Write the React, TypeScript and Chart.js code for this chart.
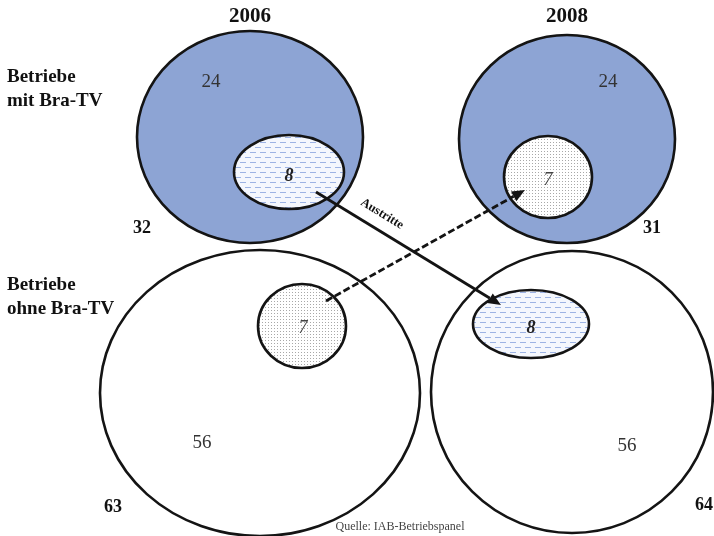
import React, { useEffect, useRef } from "react";
import { Chart, registerables } from "chart.js";
Chart.register(...registerables);

// ---- data ----
const years = ["2006", "2008"];
const groupLabels = [["Betriebe", "mit Bra-TV"], ["Betriebe", "ohne Bra-TV"]];
const totalsWith = [32, 31];
const totalsWithout = [63, 64];
const stayersWith = [24, 24];
const stayersWithout = [56, 56];
const exits = [8, 8]; // with-group 2006 -> without-group 2008
const entries = [7, 7]; // without-group 2006 -> with-group 2008
const arrowLabel = "Austritte";
const source = "Quelle: IAB-Betriebspanel";

// ---- layout (data units on a 714 x 536 scale) ----
const outer = [
  { cx: 250, cy: 137, rx: 113, ry: 106, fill: "blue" },
  { cx: 567, cy: 139, rx: 108, ry: 104, fill: "blue" },
  { cx: 260, cy: 393, rx: 160, ry: 143, fill: "white" },
  { cx: 572, cy: 392, rx: 141, ry: 141, fill: "white" },
];
const inner = [
  { cx: 289, cy: 172, rx: 55, ry: 37, pat: "dash" },
  { cx: 548, cy: 177, rx: 44, ry: 41, pat: "dot" },
  { cx: 302, cy: 326, rx: 44, ry: 42, pat: "dot" },
  { cx: 531, cy: 324, rx: 58, ry: 34, pat: "dash" },
];

function makePattern(ctx: CanvasRenderingContext2D, kind: string) {
  const c = document.createElement("canvas");
  if (kind === "dash") {
    c.width = 10; c.height = 10;
    const g = c.getContext("2d")!;
    g.fillStyle = "#f4f7fd"; g.fillRect(0, 0, 10, 10);
    g.fillStyle = "#9cb3e4";
    g.fillRect(0, 2, 6, 1);
    g.fillRect(5, 7, 6, 1);
    g.fillRect(0, 7, 1, 1);
  } else {
    c.width = 3; c.height = 3;
    const g = c.getContext("2d")!;
    g.fillStyle = "#ffffff"; g.fillRect(0, 0, 3, 3);
    g.fillStyle = "#a8a8a8"; g.fillRect(1, 1, 1, 1);
  }
  return ctx.createPattern(c, "repeat")!;
}

const diagramPlugin = {
  id: "diagram",
  afterDraw(chart: any) {
    const ctx: CanvasRenderingContext2D = chart.ctx;
    const xs = chart.scales.x, ys = chart.scales.y;
    const X = (v: number) => xs.getPixelForValue(v);
    const Y = (v: number) => ys.getPixelForValue(v);
    const W = (v: number) => Math.abs(xs.getPixelForValue(v) - xs.getPixelForValue(0));
    const H = (v: number) => Math.abs(ys.getPixelForValue(v) - ys.getPixelForValue(0));
    ctx.save();
    const ell = (e: any, fill: any) => {
      ctx.beginPath();
      ctx.ellipse(X(e.cx), Y(e.cy), W(e.rx), H(e.ry), 0, 0, Math.PI * 2);
      ctx.fillStyle = fill; ctx.fill();
      ctx.lineWidth = 2.6; ctx.strokeStyle = "#141414"; ctx.stroke();
    };
    outer.forEach((e) => ell(e, e.fill === "blue" ? "#8da4d4" : "#ffffff"));
    inner.forEach((e) => ell(e, makePattern(ctx, e.pat)));

    const text = (t: string, x: number, y: number, font: string, align: CanvasTextAlign = "center", color = "#222") => {
      ctx.font = font; ctx.fillStyle = color; ctx.textAlign = align; ctx.textBaseline = "middle";
      ctx.fillText(t, X(x), Y(y));
    };
    const serif = '"Liberation Serif", "Times New Roman", serif';
    // titles
    text(years[0], 250, 17, `bold 21px ${serif}`, "center", "#111");
    text(years[1], 567, 17, `bold 21px ${serif}`, "center", "#111");
    // group labels
    const gl = `bold 19px ${serif}`;
    text(groupLabels[0][0], 7, 77, gl, "left", "#111");
    text(groupLabels[0][1], 7, 101, gl, "left", "#111");
    text(groupLabels[1][0], 7, 285, gl, "left", "#111");
    text(groupLabels[1][1], 7, 309, gl, "left", "#111");
    // values
    const reg = `19px ${serif}`;
    text(String(stayersWith[0]), 211, 82, reg, "center", "#333");
    text(String(stayersWith[1]), 608, 82, reg, "center", "#333");
    text(String(stayersWithout[0]), 202, 443, reg, "center", "#333");
    text(String(stayersWithout[1]), 627, 446, reg, "center", "#333");
    text(String(exits[0]), 289, 176, `italic bold 18px ${serif}`, "center", "#222");
    text(String(entries[1]), 548, 180, `italic 18px ${serif}`, "center", "#444");
    text(String(entries[0]), 303, 328, `italic 18px ${serif}`, "center", "#444");
    text(String(exits[1]), 531, 328, `italic bold 18px ${serif}`, "center", "#222");
    const bold = `bold 18px ${serif}`;
    text(String(totalsWith[0]), 142, 228, bold, "center", "#111");
    text(String(totalsWith[1]), 652, 228, bold, "center", "#111");
    text(String(totalsWithout[0]), 113, 507, bold, "center", "#111");
    text(String(totalsWithout[1]), 704, 505, bold, "center", "#111");
    text(source, 400, 527, `12px ${serif}`, "center", "#444");

    // arrows
    const arrow = (x1: number, y1: number, x2: number, y2: number, dashed: boolean) => {
      const px1 = X(x1), py1 = Y(y1), px2 = X(x2), py2 = Y(y2);
      const a = Math.atan2(py2 - py1, px2 - px1);
      const hl = 13, hw = 5.5;
      const bx = px2 - hl * Math.cos(a), by = py2 - hl * Math.sin(a);
      ctx.beginPath();
      ctx.setLineDash(dashed ? [7, 3] : []);
      ctx.lineWidth = 2.8; ctx.strokeStyle = "#141414";
      ctx.moveTo(px1, py1); ctx.lineTo(bx, by); ctx.stroke();
      ctx.setLineDash([]);
      ctx.beginPath();
      ctx.moveTo(px2, py2);
      ctx.lineTo(bx + hw * Math.sin(a), by - hw * Math.cos(a));
      ctx.lineTo(bx - hw * Math.sin(a), by + hw * Math.cos(a));
      ctx.closePath(); ctx.fillStyle = "#141414"; ctx.fill();
    };
    arrow(316, 192, 501, 305, false);
    arrow(326, 301, 525, 190, true);

    // arrow label
    ctx.save();
    ctx.translate(X(382), Y(214));
    ctx.rotate(Math.atan2(H(113), W(185)));
    ctx.font = `bold 12.5px ${serif}`; ctx.fillStyle = "#111";
    ctx.textAlign = "center"; ctx.textBaseline = "middle";
    ctx.fillText(arrowLabel, 0, 0);
    ctx.restore();
    ctx.restore();
  },
};

export default function App() {
  const ref = useRef<HTMLCanvasElement>(null);
  useEffect(() => {
    document.body.style.margin = "0";
    const chart = new Chart(ref.current!, {
      type: "scatter",
      data: { datasets: [{ data: [], pointRadius: 0 }] },
      options: {
        animation: false,
        responsive: false,
        maintainAspectRatio: false,
        layout: { padding: 0 },
        plugins: { legend: { display: false }, tooltip: { enabled: false } },
        scales: {
          x: { type: "linear", min: 0, max: 714, display: false },
          y: { type: "linear", min: 0, max: 536, reverse: true, display: false },
        },
      },
      plugins: [diagramPlugin],
    });
    return () => chart.destroy();
  }, []);
  return (
    <div style={{ width: 714, height: 536, background: "#fff" }}>
      <canvas ref={ref} width={714} height={536} style={{ display: "block" }} />
    </div>
  );
}
